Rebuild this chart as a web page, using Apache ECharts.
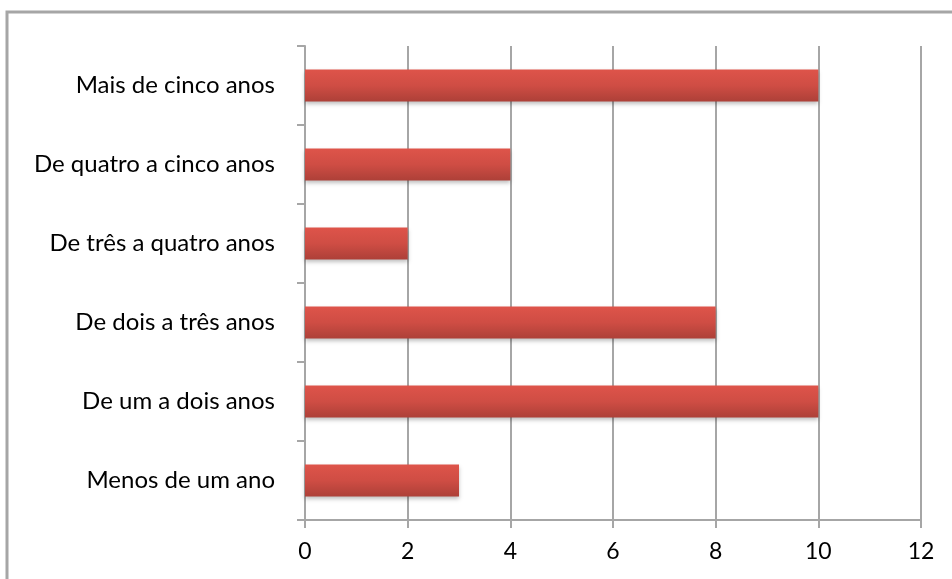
<!DOCTYPE html>
<html>
<head>
<meta charset="utf-8">
<script src="https://cdn.jsdelivr.net/npm/echarts@6/dist/echarts.min.js"></script>
<style>
  html, body { margin: 0; padding: 0; background: #fff; }
  #chart { width: 952px; height: 579px; }
</style>
</head>
<body>
<div id="chart"></div>
<script>
// categorias de baixo para cima
let categories = ["Menos de um ano", "De um a dois anos", "De dois a três anos",
  "De três a quatro anos", "De quatro a cinco anos", "Mais de cinco anos"];
let values = [3, 10, 8, 2, 4, 10];
let xTicks = [0, 2, 4, 6, 8, 10, 12];

let myChart = echarts.init(document.getElementById("chart"));
let gray = "#a6a6a6";
let font = "Lato, 'Open Sans', sans-serif";

let options = {
  animation: false,
  grid: { left: 305, right: 31, top: 46, bottom: 59 },
  graphic: [{
    type: "polyline",
    shape: { points: [[7, 600], [7, 12], [960, 12]] },
    style: { stroke: gray, lineWidth: 3, fill: null }
  }],
  xAxis: {
    type: "value",
    min: xTicks[0],
    max: xTicks[xTicks.length - 1],
    interval: 2,
    axisLine: { show: true, lineStyle: { color: gray, width: 2 } },
    axisTick: { show: true, length: 8, lineStyle: { color: gray, width: 2 } },
    splitLine: { show: true, lineStyle: { color: gray, width: 2 } },
    axisLabel: { color: "#000", fontSize: 23, fontFamily: font, margin: 20 }
  },
  yAxis: {
    type: "category",
    data: categories,
    axisLine: { show: true, lineStyle: { color: gray, width: 2 } },
    axisTick: { show: true, length: 8, lineStyle: { color: gray, width: 2 } },
    axisLabel: { color: "#000", fontSize: 24, fontFamily: font, margin: 30 }
  },
  series: [{
    type: "bar",
    data: values,
    barWidth: 32,
    itemStyle: {
      color: new echarts.graphic.LinearGradient(0, 0, 0, 1, [
        { offset: 0, color: "#de544a" },
        { offset: 0.5, color: "#cf4d44" },
        { offset: 1, color: "#ad4038" }
      ]),
      shadowColor: "rgba(0,0,0,0.25)",
      shadowBlur: 4,
      shadowOffsetY: 2
    }
  }]
};
myChart.setOption(options);
window.addEventListener("resize", () => myChart.resize());
</script>
</body>
</html>
